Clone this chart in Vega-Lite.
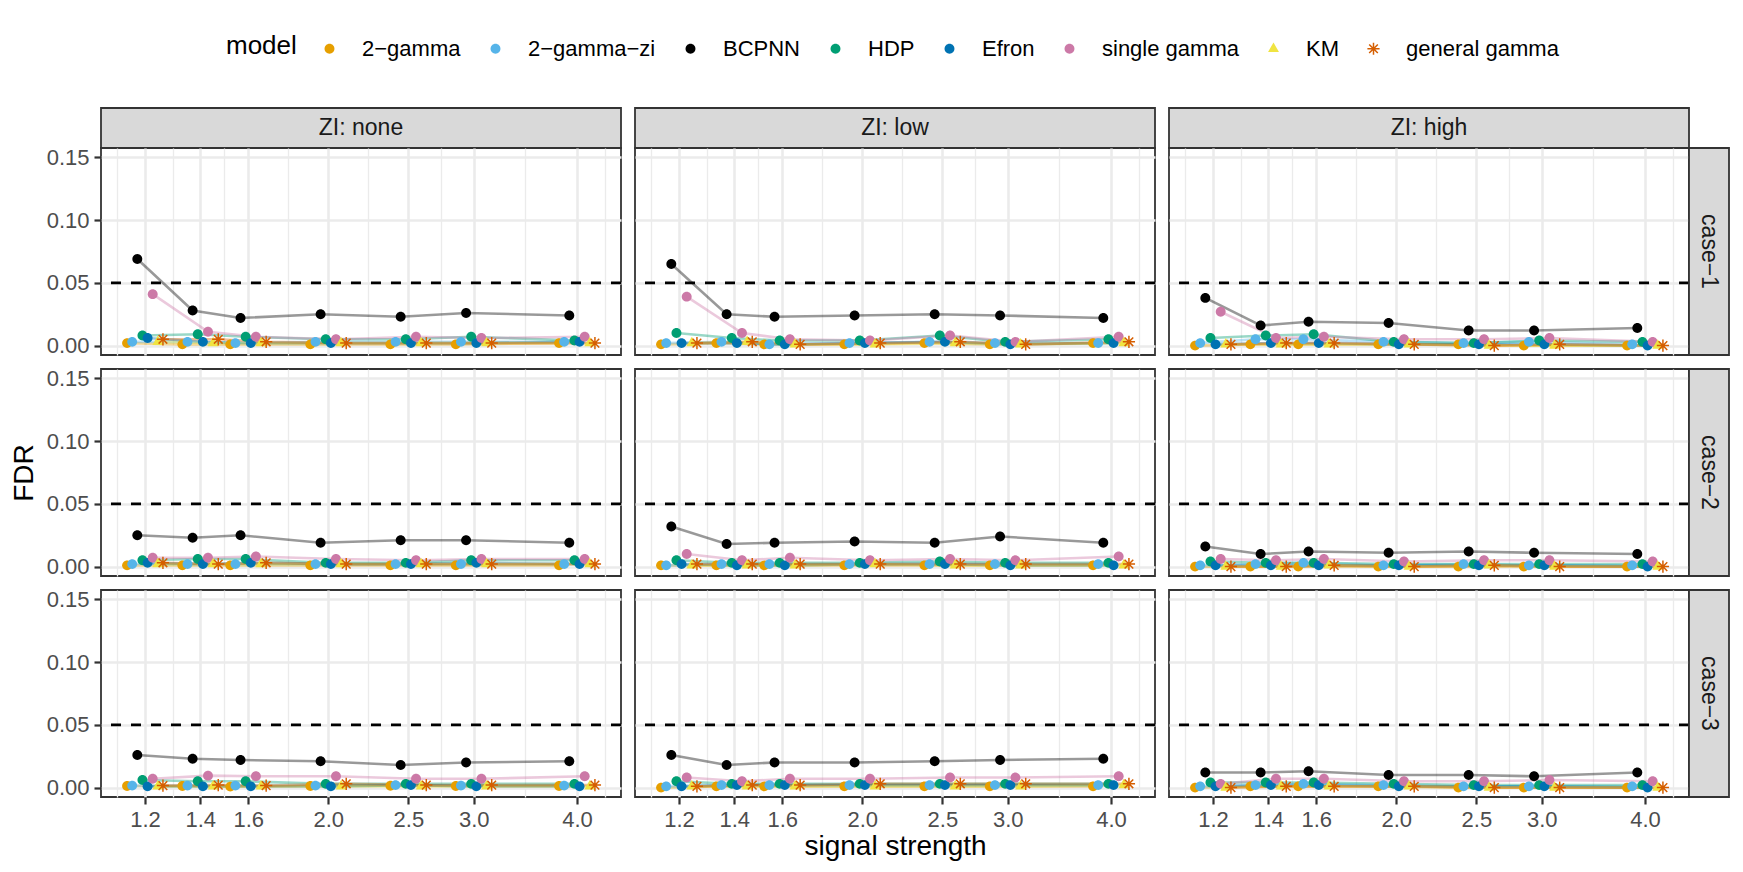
{
"$schema": "https://vega.github.io/schema/vega-lite/v6.json",
"autosize": {"type": "pad"},
"padding": {"left": 9, "top": 32, "right": 14, "bottom": 4},
"background": "white",
"datasets": {
"fdr": [
{"zi":"none","case":"case-1","model":"2−gamma","signal":1.2,"FDR":0.002},{"zi":"none","case":"case-1","model":"2−gamma","signal":1.4,"FDR":0.001},{"zi":"none","case":"case-1","model":"2−gamma","signal":1.6,"FDR":0.001},{"zi":"none","case":"case-1","model":"2−gamma","signal":2,"FDR":0.001},{"zi":"none","case":"case-1","model":"2−gamma","signal":2.5,"FDR":0.001},{"zi":"none","case":"case-1","model":"2−gamma","signal":3,"FDR":0.001},{"zi":"none","case":"case-1","model":"2−gamma","signal":4,"FDR":0.002},
{"zi":"none","case":"case-1","model":"2−gamma−zi","signal":1.2,"FDR":0.003},{"zi":"none","case":"case-1","model":"2−gamma−zi","signal":1.4,"FDR":0.003},{"zi":"none","case":"case-1","model":"2−gamma−zi","signal":1.6,"FDR":0.002},{"zi":"none","case":"case-1","model":"2−gamma−zi","signal":2,"FDR":0.003},{"zi":"none","case":"case-1","model":"2−gamma−zi","signal":2.5,"FDR":0.003},{"zi":"none","case":"case-1","model":"2−gamma−zi","signal":3,"FDR":0.003},{"zi":"none","case":"case-1","model":"2−gamma−zi","signal":4,"FDR":0.003},
{"zi":"none","case":"case-1","model":"BCPNN","signal":1.2,"FDR":0.069},{"zi":"none","case":"case-1","model":"BCPNN","signal":1.4,"FDR":0.028},{"zi":"none","case":"case-1","model":"BCPNN","signal":1.6,"FDR":0.022},{"zi":"none","case":"case-1","model":"BCPNN","signal":2,"FDR":0.025},{"zi":"none","case":"case-1","model":"BCPNN","signal":2.5,"FDR":0.023},{"zi":"none","case":"case-1","model":"BCPNN","signal":3,"FDR":0.026},{"zi":"none","case":"case-1","model":"BCPNN","signal":4,"FDR":0.024},
{"zi":"none","case":"case-1","model":"HDP","signal":1.2,"FDR":0.008},{"zi":"none","case":"case-1","model":"HDP","signal":1.4,"FDR":0.009},{"zi":"none","case":"case-1","model":"HDP","signal":1.6,"FDR":0.007},{"zi":"none","case":"case-1","model":"HDP","signal":2,"FDR":0.005},{"zi":"none","case":"case-1","model":"HDP","signal":2.5,"FDR":0.005},{"zi":"none","case":"case-1","model":"HDP","signal":3,"FDR":0.007},{"zi":"none","case":"case-1","model":"HDP","signal":4,"FDR":0.004},
{"zi":"none","case":"case-1","model":"Efron","signal":1.2,"FDR":0.006},{"zi":"none","case":"case-1","model":"Efron","signal":1.4,"FDR":0.003},{"zi":"none","case":"case-1","model":"Efron","signal":1.6,"FDR":0.002},{"zi":"none","case":"case-1","model":"Efron","signal":2,"FDR":0.002},{"zi":"none","case":"case-1","model":"Efron","signal":2.5,"FDR":0.002},{"zi":"none","case":"case-1","model":"Efron","signal":3,"FDR":0.002},{"zi":"none","case":"case-1","model":"Efron","signal":4,"FDR":0.003},
{"zi":"none","case":"case-1","model":"single gamma","signal":1.2,"FDR":0.041},{"zi":"none","case":"case-1","model":"single gamma","signal":1.4,"FDR":0.011},{"zi":"none","case":"case-1","model":"single gamma","signal":1.6,"FDR":0.007},{"zi":"none","case":"case-1","model":"single gamma","signal":2,"FDR":0.005},{"zi":"none","case":"case-1","model":"single gamma","signal":2.5,"FDR":0.007},{"zi":"none","case":"case-1","model":"single gamma","signal":3,"FDR":0.006},{"zi":"none","case":"case-1","model":"single gamma","signal":4,"FDR":0.007},
{"zi":"none","case":"case-1","model":"KM","signal":1.2,"FDR":0.003},{"zi":"none","case":"case-1","model":"KM","signal":1.4,"FDR":0.002},{"zi":"none","case":"case-1","model":"KM","signal":1.6,"FDR":0.002},{"zi":"none","case":"case-1","model":"KM","signal":2,"FDR":0.002},{"zi":"none","case":"case-1","model":"KM","signal":2.5,"FDR":0.002},{"zi":"none","case":"case-1","model":"KM","signal":3,"FDR":0.002},{"zi":"none","case":"case-1","model":"KM","signal":4,"FDR":0.002},
{"zi":"none","case":"case-1","model":"general gamma","signal":1.2,"FDR":0.005},{"zi":"none","case":"case-1","model":"general gamma","signal":1.4,"FDR":0.005},{"zi":"none","case":"case-1","model":"general gamma","signal":1.6,"FDR":0.003},{"zi":"none","case":"case-1","model":"general gamma","signal":2,"FDR":0.002},{"zi":"none","case":"case-1","model":"general gamma","signal":2.5,"FDR":0.002},{"zi":"none","case":"case-1","model":"general gamma","signal":3,"FDR":0.002},{"zi":"none","case":"case-1","model":"general gamma","signal":4,"FDR":0.002},
{"zi":"low","case":"case-1","model":"2−gamma","signal":1.2,"FDR":0.001},{"zi":"low","case":"case-1","model":"2−gamma","signal":1.4,"FDR":0.002},{"zi":"low","case":"case-1","model":"2−gamma","signal":1.6,"FDR":0.001},{"zi":"low","case":"case-1","model":"2−gamma","signal":2,"FDR":0.001},{"zi":"low","case":"case-1","model":"2−gamma","signal":2.5,"FDR":0.002},{"zi":"low","case":"case-1","model":"2−gamma","signal":3,"FDR":0.001},{"zi":"low","case":"case-1","model":"2−gamma","signal":4,"FDR":0.002},
{"zi":"low","case":"case-1","model":"2−gamma−zi","signal":1.2,"FDR":0.002},{"zi":"low","case":"case-1","model":"2−gamma−zi","signal":1.4,"FDR":0.003},{"zi":"low","case":"case-1","model":"2−gamma−zi","signal":1.6,"FDR":0.001},{"zi":"low","case":"case-1","model":"2−gamma−zi","signal":2,"FDR":0.002},{"zi":"low","case":"case-1","model":"2−gamma−zi","signal":2.5,"FDR":0.003},{"zi":"low","case":"case-1","model":"2−gamma−zi","signal":3,"FDR":0.002},{"zi":"low","case":"case-1","model":"2−gamma−zi","signal":4,"FDR":0.002},
{"zi":"low","case":"case-1","model":"BCPNN","signal":1.2,"FDR":0.065},{"zi":"low","case":"case-1","model":"BCPNN","signal":1.4,"FDR":0.025},{"zi":"low","case":"case-1","model":"BCPNN","signal":1.6,"FDR":0.023},{"zi":"low","case":"case-1","model":"BCPNN","signal":2,"FDR":0.024},{"zi":"low","case":"case-1","model":"BCPNN","signal":2.5,"FDR":0.025},{"zi":"low","case":"case-1","model":"BCPNN","signal":3,"FDR":0.024},{"zi":"low","case":"case-1","model":"BCPNN","signal":4,"FDR":0.022},
{"zi":"low","case":"case-1","model":"HDP","signal":1.2,"FDR":0.010},{"zi":"low","case":"case-1","model":"HDP","signal":1.4,"FDR":0.006},{"zi":"low","case":"case-1","model":"HDP","signal":1.6,"FDR":0.004},{"zi":"low","case":"case-1","model":"HDP","signal":2,"FDR":0.004},{"zi":"low","case":"case-1","model":"HDP","signal":2.5,"FDR":0.008},{"zi":"low","case":"case-1","model":"HDP","signal":3,"FDR":0.003},{"zi":"low","case":"case-1","model":"HDP","signal":4,"FDR":0.005},
{"zi":"low","case":"case-1","model":"Efron","signal":1.2,"FDR":0.002},{"zi":"low","case":"case-1","model":"Efron","signal":1.4,"FDR":0.002},{"zi":"low","case":"case-1","model":"Efron","signal":1.6,"FDR":0.001},{"zi":"low","case":"case-1","model":"Efron","signal":2,"FDR":0.002},{"zi":"low","case":"case-1","model":"Efron","signal":2.5,"FDR":0.003},{"zi":"low","case":"case-1","model":"Efron","signal":3,"FDR":0.001},{"zi":"low","case":"case-1","model":"Efron","signal":4,"FDR":0.002},
{"zi":"low","case":"case-1","model":"single gamma","signal":1.2,"FDR":0.039},{"zi":"low","case":"case-1","model":"single gamma","signal":1.4,"FDR":0.010},{"zi":"low","case":"case-1","model":"single gamma","signal":1.6,"FDR":0.005},{"zi":"low","case":"case-1","model":"single gamma","signal":2,"FDR":0.004},{"zi":"low","case":"case-1","model":"single gamma","signal":2.5,"FDR":0.008},{"zi":"low","case":"case-1","model":"single gamma","signal":3,"FDR":0.003},{"zi":"low","case":"case-1","model":"single gamma","signal":4,"FDR":0.007},
{"zi":"low","case":"case-1","model":"KM","signal":1.2,"FDR":0.002},{"zi":"low","case":"case-1","model":"KM","signal":1.4,"FDR":0.003},{"zi":"low","case":"case-1","model":"KM","signal":1.6,"FDR":0.001},{"zi":"low","case":"case-1","model":"KM","signal":2,"FDR":0.001},{"zi":"low","case":"case-1","model":"KM","signal":2.5,"FDR":0.002},{"zi":"low","case":"case-1","model":"KM","signal":3,"FDR":0.001},{"zi":"low","case":"case-1","model":"KM","signal":4,"FDR":0.002},
{"zi":"low","case":"case-1","model":"general gamma","signal":1.2,"FDR":0.002},{"zi":"low","case":"case-1","model":"general gamma","signal":1.4,"FDR":0.003},{"zi":"low","case":"case-1","model":"general gamma","signal":1.6,"FDR":0.001},{"zi":"low","case":"case-1","model":"general gamma","signal":2,"FDR":0.002},{"zi":"low","case":"case-1","model":"general gamma","signal":2.5,"FDR":0.003},{"zi":"low","case":"case-1","model":"general gamma","signal":3,"FDR":0.001},{"zi":"low","case":"case-1","model":"general gamma","signal":4,"FDR":0.003},
{"zi":"high","case":"case-1","model":"2−gamma","signal":1.2,"FDR":0.000},{"zi":"high","case":"case-1","model":"2−gamma","signal":1.4,"FDR":0.001},{"zi":"high","case":"case-1","model":"2−gamma","signal":1.6,"FDR":0.001},{"zi":"high","case":"case-1","model":"2−gamma","signal":2,"FDR":0.001},{"zi":"high","case":"case-1","model":"2−gamma","signal":2.5,"FDR":0.001},{"zi":"high","case":"case-1","model":"2−gamma","signal":3,"FDR":0.000},{"zi":"high","case":"case-1","model":"2−gamma","signal":4,"FDR":0.000},
{"zi":"high","case":"case-1","model":"2−gamma−zi","signal":1.2,"FDR":0.002},{"zi":"high","case":"case-1","model":"2−gamma−zi","signal":1.4,"FDR":0.005},{"zi":"high","case":"case-1","model":"2−gamma−zi","signal":1.6,"FDR":0.005},{"zi":"high","case":"case-1","model":"2−gamma−zi","signal":2,"FDR":0.003},{"zi":"high","case":"case-1","model":"2−gamma−zi","signal":2.5,"FDR":0.002},{"zi":"high","case":"case-1","model":"2−gamma−zi","signal":3,"FDR":0.003},{"zi":"high","case":"case-1","model":"2−gamma−zi","signal":4,"FDR":0.001},
{"zi":"high","case":"case-1","model":"BCPNN","signal":1.2,"FDR":0.038},{"zi":"high","case":"case-1","model":"BCPNN","signal":1.4,"FDR":0.016},{"zi":"high","case":"case-1","model":"BCPNN","signal":1.6,"FDR":0.019},{"zi":"high","case":"case-1","model":"BCPNN","signal":2,"FDR":0.018},{"zi":"high","case":"case-1","model":"BCPNN","signal":2.5,"FDR":0.012},{"zi":"high","case":"case-1","model":"BCPNN","signal":3,"FDR":0.012},{"zi":"high","case":"case-1","model":"BCPNN","signal":4,"FDR":0.014},
{"zi":"high","case":"case-1","model":"HDP","signal":1.2,"FDR":0.006},{"zi":"high","case":"case-1","model":"HDP","signal":1.4,"FDR":0.008},{"zi":"high","case":"case-1","model":"HDP","signal":1.6,"FDR":0.009},{"zi":"high","case":"case-1","model":"HDP","signal":2,"FDR":0.003},{"zi":"high","case":"case-1","model":"HDP","signal":2.5,"FDR":0.002},{"zi":"high","case":"case-1","model":"HDP","signal":3,"FDR":0.004},{"zi":"high","case":"case-1","model":"HDP","signal":4,"FDR":0.003},
{"zi":"high","case":"case-1","model":"Efron","signal":1.2,"FDR":0.001},{"zi":"high","case":"case-1","model":"Efron","signal":1.4,"FDR":0.002},{"zi":"high","case":"case-1","model":"Efron","signal":1.6,"FDR":0.002},{"zi":"high","case":"case-1","model":"Efron","signal":2,"FDR":0.001},{"zi":"high","case":"case-1","model":"Efron","signal":2.5,"FDR":0.001},{"zi":"high","case":"case-1","model":"Efron","signal":3,"FDR":0.001},{"zi":"high","case":"case-1","model":"Efron","signal":4,"FDR":0.000},
{"zi":"high","case":"case-1","model":"single gamma","signal":1.2,"FDR":0.027},{"zi":"high","case":"case-1","model":"single gamma","signal":1.4,"FDR":0.006},{"zi":"high","case":"case-1","model":"single gamma","signal":1.6,"FDR":0.007},{"zi":"high","case":"case-1","model":"single gamma","signal":2,"FDR":0.005},{"zi":"high","case":"case-1","model":"single gamma","signal":2.5,"FDR":0.005},{"zi":"high","case":"case-1","model":"single gamma","signal":3,"FDR":0.006},{"zi":"high","case":"case-1","model":"single gamma","signal":4,"FDR":0.003},
{"zi":"high","case":"case-1","model":"KM","signal":1.2,"FDR":0.001},{"zi":"high","case":"case-1","model":"KM","signal":1.4,"FDR":0.001},{"zi":"high","case":"case-1","model":"KM","signal":1.6,"FDR":0.001},{"zi":"high","case":"case-1","model":"KM","signal":2,"FDR":0.001},{"zi":"high","case":"case-1","model":"KM","signal":2.5,"FDR":0.000},{"zi":"high","case":"case-1","model":"KM","signal":3,"FDR":0.000},{"zi":"high","case":"case-1","model":"KM","signal":4,"FDR":0.000},
{"zi":"high","case":"case-1","model":"general gamma","signal":1.2,"FDR":0.001},{"zi":"high","case":"case-1","model":"general gamma","signal":1.4,"FDR":0.002},{"zi":"high","case":"case-1","model":"general gamma","signal":1.6,"FDR":0.002},{"zi":"high","case":"case-1","model":"general gamma","signal":2,"FDR":0.001},{"zi":"high","case":"case-1","model":"general gamma","signal":2.5,"FDR":0.000},{"zi":"high","case":"case-1","model":"general gamma","signal":3,"FDR":0.001},{"zi":"high","case":"case-1","model":"general gamma","signal":4,"FDR":0.000},
{"zi":"none","case":"case-2","model":"2−gamma","signal":1.2,"FDR":0.001},{"zi":"none","case":"case-2","model":"2−gamma","signal":1.4,"FDR":0.001},{"zi":"none","case":"case-2","model":"2−gamma","signal":1.6,"FDR":0.001},{"zi":"none","case":"case-2","model":"2−gamma","signal":2,"FDR":0.001},{"zi":"none","case":"case-2","model":"2−gamma","signal":2.5,"FDR":0.001},{"zi":"none","case":"case-2","model":"2−gamma","signal":3,"FDR":0.001},{"zi":"none","case":"case-2","model":"2−gamma","signal":4,"FDR":0.001},
{"zi":"none","case":"case-2","model":"2−gamma−zi","signal":1.2,"FDR":0.002},{"zi":"none","case":"case-2","model":"2−gamma−zi","signal":1.4,"FDR":0.002},{"zi":"none","case":"case-2","model":"2−gamma−zi","signal":1.6,"FDR":0.002},{"zi":"none","case":"case-2","model":"2−gamma−zi","signal":2,"FDR":0.002},{"zi":"none","case":"case-2","model":"2−gamma−zi","signal":2.5,"FDR":0.002},{"zi":"none","case":"case-2","model":"2−gamma−zi","signal":3,"FDR":0.002},{"zi":"none","case":"case-2","model":"2−gamma−zi","signal":4,"FDR":0.002},
{"zi":"none","case":"case-2","model":"BCPNN","signal":1.2,"FDR":0.025},{"zi":"none","case":"case-2","model":"BCPNN","signal":1.4,"FDR":0.023},{"zi":"none","case":"case-2","model":"BCPNN","signal":1.6,"FDR":0.025},{"zi":"none","case":"case-2","model":"BCPNN","signal":2,"FDR":0.019},{"zi":"none","case":"case-2","model":"BCPNN","signal":2.5,"FDR":0.021},{"zi":"none","case":"case-2","model":"BCPNN","signal":3,"FDR":0.021},{"zi":"none","case":"case-2","model":"BCPNN","signal":4,"FDR":0.019},
{"zi":"none","case":"case-2","model":"HDP","signal":1.2,"FDR":0.005},{"zi":"none","case":"case-2","model":"HDP","signal":1.4,"FDR":0.006},{"zi":"none","case":"case-2","model":"HDP","signal":1.6,"FDR":0.006},{"zi":"none","case":"case-2","model":"HDP","signal":2,"FDR":0.003},{"zi":"none","case":"case-2","model":"HDP","signal":2.5,"FDR":0.003},{"zi":"none","case":"case-2","model":"HDP","signal":3,"FDR":0.005},{"zi":"none","case":"case-2","model":"HDP","signal":4,"FDR":0.005},
{"zi":"none","case":"case-2","model":"Efron","signal":1.2,"FDR":0.003},{"zi":"none","case":"case-2","model":"Efron","signal":1.4,"FDR":0.002},{"zi":"none","case":"case-2","model":"Efron","signal":1.6,"FDR":0.003},{"zi":"none","case":"case-2","model":"Efron","signal":2,"FDR":0.002},{"zi":"none","case":"case-2","model":"Efron","signal":2.5,"FDR":0.002},{"zi":"none","case":"case-2","model":"Efron","signal":3,"FDR":0.003},{"zi":"none","case":"case-2","model":"Efron","signal":4,"FDR":0.002},
{"zi":"none","case":"case-2","model":"single gamma","signal":1.2,"FDR":0.007},{"zi":"none","case":"case-2","model":"single gamma","signal":1.4,"FDR":0.007},{"zi":"none","case":"case-2","model":"single gamma","signal":1.6,"FDR":0.008},{"zi":"none","case":"case-2","model":"single gamma","signal":2,"FDR":0.006},{"zi":"none","case":"case-2","model":"single gamma","signal":2.5,"FDR":0.005},{"zi":"none","case":"case-2","model":"single gamma","signal":3,"FDR":0.006},{"zi":"none","case":"case-2","model":"single gamma","signal":4,"FDR":0.006},
{"zi":"none","case":"case-2","model":"KM","signal":1.2,"FDR":0.002},{"zi":"none","case":"case-2","model":"KM","signal":1.4,"FDR":0.002},{"zi":"none","case":"case-2","model":"KM","signal":1.6,"FDR":0.002},{"zi":"none","case":"case-2","model":"KM","signal":2,"FDR":0.002},{"zi":"none","case":"case-2","model":"KM","signal":2.5,"FDR":0.002},{"zi":"none","case":"case-2","model":"KM","signal":3,"FDR":0.002},{"zi":"none","case":"case-2","model":"KM","signal":4,"FDR":0.002},
{"zi":"none","case":"case-2","model":"general gamma","signal":1.2,"FDR":0.003},{"zi":"none","case":"case-2","model":"general gamma","signal":1.4,"FDR":0.002},{"zi":"none","case":"case-2","model":"general gamma","signal":1.6,"FDR":0.003},{"zi":"none","case":"case-2","model":"general gamma","signal":2,"FDR":0.002},{"zi":"none","case":"case-2","model":"general gamma","signal":2.5,"FDR":0.002},{"zi":"none","case":"case-2","model":"general gamma","signal":3,"FDR":0.002},{"zi":"none","case":"case-2","model":"general gamma","signal":4,"FDR":0.002},
{"zi":"low","case":"case-2","model":"2−gamma","signal":1.2,"FDR":0.001},{"zi":"low","case":"case-2","model":"2−gamma","signal":1.4,"FDR":0.001},{"zi":"low","case":"case-2","model":"2−gamma","signal":1.6,"FDR":0.001},{"zi":"low","case":"case-2","model":"2−gamma","signal":2,"FDR":0.001},{"zi":"low","case":"case-2","model":"2−gamma","signal":2.5,"FDR":0.001},{"zi":"low","case":"case-2","model":"2−gamma","signal":3,"FDR":0.001},{"zi":"low","case":"case-2","model":"2−gamma","signal":4,"FDR":0.001},
{"zi":"low","case":"case-2","model":"2−gamma−zi","signal":1.2,"FDR":0.001},{"zi":"low","case":"case-2","model":"2−gamma−zi","signal":1.4,"FDR":0.002},{"zi":"low","case":"case-2","model":"2−gamma−zi","signal":1.6,"FDR":0.002},{"zi":"low","case":"case-2","model":"2−gamma−zi","signal":2,"FDR":0.002},{"zi":"low","case":"case-2","model":"2−gamma−zi","signal":2.5,"FDR":0.002},{"zi":"low","case":"case-2","model":"2−gamma−zi","signal":3,"FDR":0.002},{"zi":"low","case":"case-2","model":"2−gamma−zi","signal":4,"FDR":0.002},
{"zi":"low","case":"case-2","model":"BCPNN","signal":1.2,"FDR":0.032},{"zi":"low","case":"case-2","model":"BCPNN","signal":1.4,"FDR":0.018},{"zi":"low","case":"case-2","model":"BCPNN","signal":1.6,"FDR":0.019},{"zi":"low","case":"case-2","model":"BCPNN","signal":2,"FDR":0.020},{"zi":"low","case":"case-2","model":"BCPNN","signal":2.5,"FDR":0.019},{"zi":"low","case":"case-2","model":"BCPNN","signal":3,"FDR":0.024},{"zi":"low","case":"case-2","model":"BCPNN","signal":4,"FDR":0.019},
{"zi":"low","case":"case-2","model":"HDP","signal":1.2,"FDR":0.005},{"zi":"low","case":"case-2","model":"HDP","signal":1.4,"FDR":0.003},{"zi":"low","case":"case-2","model":"HDP","signal":1.6,"FDR":0.003},{"zi":"low","case":"case-2","model":"HDP","signal":2,"FDR":0.003},{"zi":"low","case":"case-2","model":"HDP","signal":2.5,"FDR":0.004},{"zi":"low","case":"case-2","model":"HDP","signal":3,"FDR":0.003},{"zi":"low","case":"case-2","model":"HDP","signal":4,"FDR":0.003},
{"zi":"low","case":"case-2","model":"Efron","signal":1.2,"FDR":0.002},{"zi":"low","case":"case-2","model":"Efron","signal":1.4,"FDR":0.001},{"zi":"low","case":"case-2","model":"Efron","signal":1.6,"FDR":0.001},{"zi":"low","case":"case-2","model":"Efron","signal":2,"FDR":0.002},{"zi":"low","case":"case-2","model":"Efron","signal":2.5,"FDR":0.002},{"zi":"low","case":"case-2","model":"Efron","signal":3,"FDR":0.001},{"zi":"low","case":"case-2","model":"Efron","signal":4,"FDR":0.001},
{"zi":"low","case":"case-2","model":"single gamma","signal":1.2,"FDR":0.010},{"zi":"low","case":"case-2","model":"single gamma","signal":1.4,"FDR":0.005},{"zi":"low","case":"case-2","model":"single gamma","signal":1.6,"FDR":0.007},{"zi":"low","case":"case-2","model":"single gamma","signal":2,"FDR":0.005},{"zi":"low","case":"case-2","model":"single gamma","signal":2.5,"FDR":0.006},{"zi":"low","case":"case-2","model":"single gamma","signal":3,"FDR":0.005},{"zi":"low","case":"case-2","model":"single gamma","signal":4,"FDR":0.008},
{"zi":"low","case":"case-2","model":"KM","signal":1.2,"FDR":0.001},{"zi":"low","case":"case-2","model":"KM","signal":1.4,"FDR":0.001},{"zi":"low","case":"case-2","model":"KM","signal":1.6,"FDR":0.001},{"zi":"low","case":"case-2","model":"KM","signal":2,"FDR":0.002},{"zi":"low","case":"case-2","model":"KM","signal":2.5,"FDR":0.001},{"zi":"low","case":"case-2","model":"KM","signal":3,"FDR":0.001},{"zi":"low","case":"case-2","model":"KM","signal":4,"FDR":0.001},
{"zi":"low","case":"case-2","model":"general gamma","signal":1.2,"FDR":0.002},{"zi":"low","case":"case-2","model":"general gamma","signal":1.4,"FDR":0.002},{"zi":"low","case":"case-2","model":"general gamma","signal":1.6,"FDR":0.002},{"zi":"low","case":"case-2","model":"general gamma","signal":2,"FDR":0.002},{"zi":"low","case":"case-2","model":"general gamma","signal":2.5,"FDR":0.002},{"zi":"low","case":"case-2","model":"general gamma","signal":3,"FDR":0.002},{"zi":"low","case":"case-2","model":"general gamma","signal":4,"FDR":0.002},
{"zi":"high","case":"case-2","model":"2−gamma","signal":1.2,"FDR":0.000},{"zi":"high","case":"case-2","model":"2−gamma","signal":1.4,"FDR":0.000},{"zi":"high","case":"case-2","model":"2−gamma","signal":1.6,"FDR":0.000},{"zi":"high","case":"case-2","model":"2−gamma","signal":2,"FDR":0.000},{"zi":"high","case":"case-2","model":"2−gamma","signal":2.5,"FDR":0.000},{"zi":"high","case":"case-2","model":"2−gamma","signal":3,"FDR":0.000},{"zi":"high","case":"case-2","model":"2−gamma","signal":4,"FDR":0.000},
{"zi":"high","case":"case-2","model":"2−gamma−zi","signal":1.2,"FDR":0.001},{"zi":"high","case":"case-2","model":"2−gamma−zi","signal":1.4,"FDR":0.002},{"zi":"high","case":"case-2","model":"2−gamma−zi","signal":1.6,"FDR":0.003},{"zi":"high","case":"case-2","model":"2−gamma−zi","signal":2,"FDR":0.001},{"zi":"high","case":"case-2","model":"2−gamma−zi","signal":2.5,"FDR":0.002},{"zi":"high","case":"case-2","model":"2−gamma−zi","signal":3,"FDR":0.001},{"zi":"high","case":"case-2","model":"2−gamma−zi","signal":4,"FDR":0.001},
{"zi":"high","case":"case-2","model":"BCPNN","signal":1.2,"FDR":0.016},{"zi":"high","case":"case-2","model":"BCPNN","signal":1.4,"FDR":0.010},{"zi":"high","case":"case-2","model":"BCPNN","signal":1.6,"FDR":0.012},{"zi":"high","case":"case-2","model":"BCPNN","signal":2,"FDR":0.011},{"zi":"high","case":"case-2","model":"BCPNN","signal":2.5,"FDR":0.012},{"zi":"high","case":"case-2","model":"BCPNN","signal":3,"FDR":0.011},{"zi":"high","case":"case-2","model":"BCPNN","signal":4,"FDR":0.010},
{"zi":"high","case":"case-2","model":"HDP","signal":1.2,"FDR":0.004},{"zi":"high","case":"case-2","model":"HDP","signal":1.4,"FDR":0.003},{"zi":"high","case":"case-2","model":"HDP","signal":1.6,"FDR":0.003},{"zi":"high","case":"case-2","model":"HDP","signal":2,"FDR":0.002},{"zi":"high","case":"case-2","model":"HDP","signal":2.5,"FDR":0.002},{"zi":"high","case":"case-2","model":"HDP","signal":3,"FDR":0.002},{"zi":"high","case":"case-2","model":"HDP","signal":4,"FDR":0.002},
{"zi":"high","case":"case-2","model":"Efron","signal":1.2,"FDR":0.001},{"zi":"high","case":"case-2","model":"Efron","signal":1.4,"FDR":0.001},{"zi":"high","case":"case-2","model":"Efron","signal":1.6,"FDR":0.001},{"zi":"high","case":"case-2","model":"Efron","signal":2,"FDR":0.001},{"zi":"high","case":"case-2","model":"Efron","signal":2.5,"FDR":0.001},{"zi":"high","case":"case-2","model":"Efron","signal":3,"FDR":0.001},{"zi":"high","case":"case-2","model":"Efron","signal":4,"FDR":0.000},
{"zi":"high","case":"case-2","model":"single gamma","signal":1.2,"FDR":0.006},{"zi":"high","case":"case-2","model":"single gamma","signal":1.4,"FDR":0.005},{"zi":"high","case":"case-2","model":"single gamma","signal":1.6,"FDR":0.006},{"zi":"high","case":"case-2","model":"single gamma","signal":2,"FDR":0.004},{"zi":"high","case":"case-2","model":"single gamma","signal":2.5,"FDR":0.005},{"zi":"high","case":"case-2","model":"single gamma","signal":3,"FDR":0.005},{"zi":"high","case":"case-2","model":"single gamma","signal":4,"FDR":0.004},
{"zi":"high","case":"case-2","model":"KM","signal":1.2,"FDR":0.000},{"zi":"high","case":"case-2","model":"KM","signal":1.4,"FDR":0.000},{"zi":"high","case":"case-2","model":"KM","signal":1.6,"FDR":0.001},{"zi":"high","case":"case-2","model":"KM","signal":2,"FDR":0.000},{"zi":"high","case":"case-2","model":"KM","signal":2.5,"FDR":0.001},{"zi":"high","case":"case-2","model":"KM","signal":3,"FDR":0.000},{"zi":"high","case":"case-2","model":"KM","signal":4,"FDR":0.000},
{"zi":"high","case":"case-2","model":"general gamma","signal":1.2,"FDR":0.000},{"zi":"high","case":"case-2","model":"general gamma","signal":1.4,"FDR":0.000},{"zi":"high","case":"case-2","model":"general gamma","signal":1.6,"FDR":0.001},{"zi":"high","case":"case-2","model":"general gamma","signal":2,"FDR":0.000},{"zi":"high","case":"case-2","model":"general gamma","signal":2.5,"FDR":0.001},{"zi":"high","case":"case-2","model":"general gamma","signal":3,"FDR":0.000},{"zi":"high","case":"case-2","model":"general gamma","signal":4,"FDR":0.000},
{"zi":"none","case":"case-3","model":"2−gamma","signal":1.2,"FDR":0.0013},{"zi":"none","case":"case-3","model":"2−gamma","signal":1.4,"FDR":0.0013},{"zi":"none","case":"case-3","model":"2−gamma","signal":1.6,"FDR":0.0008},{"zi":"none","case":"case-3","model":"2−gamma","signal":2,"FDR":0.0013},{"zi":"none","case":"case-3","model":"2−gamma","signal":2.5,"FDR":0.0015},{"zi":"none","case":"case-3","model":"2−gamma","signal":3,"FDR":0.0013},{"zi":"none","case":"case-3","model":"2−gamma","signal":4,"FDR":0.0013},
{"zi":"none","case":"case-3","model":"2−gamma−zi","signal":1.2,"FDR":0.0016},{"zi":"none","case":"case-3","model":"2−gamma−zi","signal":1.4,"FDR":0.0016},{"zi":"none","case":"case-3","model":"2−gamma−zi","signal":1.6,"FDR":0.0016},{"zi":"none","case":"case-3","model":"2−gamma−zi","signal":2,"FDR":0.0016},{"zi":"none","case":"case-3","model":"2−gamma−zi","signal":2.5,"FDR":0.002},{"zi":"none","case":"case-3","model":"2−gamma−zi","signal":3,"FDR":0.0016},{"zi":"none","case":"case-3","model":"2−gamma−zi","signal":4,"FDR":0.0016},
{"zi":"none","case":"case-3","model":"BCPNN","signal":1.2,"FDR":0.026},{"zi":"none","case":"case-3","model":"BCPNN","signal":1.4,"FDR":0.023},{"zi":"none","case":"case-3","model":"BCPNN","signal":1.6,"FDR":0.022},{"zi":"none","case":"case-3","model":"BCPNN","signal":2,"FDR":0.021},{"zi":"none","case":"case-3","model":"BCPNN","signal":2.5,"FDR":0.018},{"zi":"none","case":"case-3","model":"BCPNN","signal":3,"FDR":0.020},{"zi":"none","case":"case-3","model":"BCPNN","signal":4,"FDR":0.021},
{"zi":"none","case":"case-3","model":"HDP","signal":1.2,"FDR":0.006},{"zi":"none","case":"case-3","model":"HDP","signal":1.4,"FDR":0.005},{"zi":"none","case":"case-3","model":"HDP","signal":1.6,"FDR":0.005},{"zi":"none","case":"case-3","model":"HDP","signal":2,"FDR":0.003},{"zi":"none","case":"case-3","model":"HDP","signal":2.5,"FDR":0.003},{"zi":"none","case":"case-3","model":"HDP","signal":3,"FDR":0.003},{"zi":"none","case":"case-3","model":"HDP","signal":4,"FDR":0.003},
{"zi":"none","case":"case-3","model":"Efron","signal":1.2,"FDR":0.001},{"zi":"none","case":"case-3","model":"Efron","signal":1.4,"FDR":0.001},{"zi":"none","case":"case-3","model":"Efron","signal":1.6,"FDR":0.001},{"zi":"none","case":"case-3","model":"Efron","signal":2,"FDR":0.001},{"zi":"none","case":"case-3","model":"Efron","signal":2.5,"FDR":0.002},{"zi":"none","case":"case-3","model":"Efron","signal":3,"FDR":0.001},{"zi":"none","case":"case-3","model":"Efron","signal":4,"FDR":0.001},
{"zi":"none","case":"case-3","model":"single gamma","signal":1.2,"FDR":0.007},{"zi":"none","case":"case-3","model":"single gamma","signal":1.4,"FDR":0.0095},{"zi":"none","case":"case-3","model":"single gamma","signal":1.6,"FDR":0.009},{"zi":"none","case":"case-3","model":"single gamma","signal":2,"FDR":0.009},{"zi":"none","case":"case-3","model":"single gamma","signal":2.5,"FDR":0.007},{"zi":"none","case":"case-3","model":"single gamma","signal":3,"FDR":0.007},{"zi":"none","case":"case-3","model":"single gamma","signal":4,"FDR":0.009},
{"zi":"none","case":"case-3","model":"KM","signal":1.2,"FDR":0.001},{"zi":"none","case":"case-3","model":"KM","signal":1.4,"FDR":0.001},{"zi":"none","case":"case-3","model":"KM","signal":1.6,"FDR":0.001},{"zi":"none","case":"case-3","model":"KM","signal":2,"FDR":0.001},{"zi":"none","case":"case-3","model":"KM","signal":2.5,"FDR":0.001},{"zi":"none","case":"case-3","model":"KM","signal":3,"FDR":0.001},{"zi":"none","case":"case-3","model":"KM","signal":4,"FDR":0.001},
{"zi":"none","case":"case-3","model":"general gamma","signal":1.2,"FDR":0.0016},{"zi":"none","case":"case-3","model":"general gamma","signal":1.4,"FDR":0.002},{"zi":"none","case":"case-3","model":"general gamma","signal":1.6,"FDR":0.0016},{"zi":"none","case":"case-3","model":"general gamma","signal":2,"FDR":0.003},{"zi":"none","case":"case-3","model":"general gamma","signal":2.5,"FDR":0.002},{"zi":"none","case":"case-3","model":"general gamma","signal":3,"FDR":0.002},{"zi":"none","case":"case-3","model":"general gamma","signal":4,"FDR":0.002},
{"zi":"low","case":"case-3","model":"2−gamma","signal":1.2,"FDR":0.000},{"zi":"low","case":"case-3","model":"2−gamma","signal":1.4,"FDR":0.001},{"zi":"low","case":"case-3","model":"2−gamma","signal":1.6,"FDR":0.001},{"zi":"low","case":"case-3","model":"2−gamma","signal":2,"FDR":0.001},{"zi":"low","case":"case-3","model":"2−gamma","signal":2.5,"FDR":0.001},{"zi":"low","case":"case-3","model":"2−gamma","signal":3,"FDR":0.001},{"zi":"low","case":"case-3","model":"2−gamma","signal":4,"FDR":0.001},
{"zi":"low","case":"case-3","model":"2−gamma−zi","signal":1.2,"FDR":0.001},{"zi":"low","case":"case-3","model":"2−gamma−zi","signal":1.4,"FDR":0.002},{"zi":"low","case":"case-3","model":"2−gamma−zi","signal":1.6,"FDR":0.002},{"zi":"low","case":"case-3","model":"2−gamma−zi","signal":2,"FDR":0.002},{"zi":"low","case":"case-3","model":"2−gamma−zi","signal":2.5,"FDR":0.002},{"zi":"low","case":"case-3","model":"2−gamma−zi","signal":3,"FDR":0.002},{"zi":"low","case":"case-3","model":"2−gamma−zi","signal":4,"FDR":0.002},
{"zi":"low","case":"case-3","model":"BCPNN","signal":1.2,"FDR":0.026},{"zi":"low","case":"case-3","model":"BCPNN","signal":1.4,"FDR":0.018},{"zi":"low","case":"case-3","model":"BCPNN","signal":1.6,"FDR":0.020},{"zi":"low","case":"case-3","model":"BCPNN","signal":2,"FDR":0.020},{"zi":"low","case":"case-3","model":"BCPNN","signal":2.5,"FDR":0.021},{"zi":"low","case":"case-3","model":"BCPNN","signal":3,"FDR":0.022},{"zi":"low","case":"case-3","model":"BCPNN","signal":4,"FDR":0.023},
{"zi":"low","case":"case-3","model":"HDP","signal":1.2,"FDR":0.005},{"zi":"low","case":"case-3","model":"HDP","signal":1.4,"FDR":0.003},{"zi":"low","case":"case-3","model":"HDP","signal":1.6,"FDR":0.003},{"zi":"low","case":"case-3","model":"HDP","signal":2,"FDR":0.003},{"zi":"low","case":"case-3","model":"HDP","signal":2.5,"FDR":0.003},{"zi":"low","case":"case-3","model":"HDP","signal":3,"FDR":0.003},{"zi":"low","case":"case-3","model":"HDP","signal":4,"FDR":0.003},
{"zi":"low","case":"case-3","model":"Efron","signal":1.2,"FDR":0.001},{"zi":"low","case":"case-3","model":"Efron","signal":1.4,"FDR":0.002},{"zi":"low","case":"case-3","model":"Efron","signal":1.6,"FDR":0.002},{"zi":"low","case":"case-3","model":"Efron","signal":2,"FDR":0.002},{"zi":"low","case":"case-3","model":"Efron","signal":2.5,"FDR":0.002},{"zi":"low","case":"case-3","model":"Efron","signal":3,"FDR":0.002},{"zi":"low","case":"case-3","model":"Efron","signal":4,"FDR":0.002},
{"zi":"low","case":"case-3","model":"single gamma","signal":1.2,"FDR":0.008},{"zi":"low","case":"case-3","model":"single gamma","signal":1.4,"FDR":0.005},{"zi":"low","case":"case-3","model":"single gamma","signal":1.6,"FDR":0.007},{"zi":"low","case":"case-3","model":"single gamma","signal":2,"FDR":0.007},{"zi":"low","case":"case-3","model":"single gamma","signal":2.5,"FDR":0.008},{"zi":"low","case":"case-3","model":"single gamma","signal":3,"FDR":0.008},{"zi":"low","case":"case-3","model":"single gamma","signal":4,"FDR":0.009},
{"zi":"low","case":"case-3","model":"KM","signal":1.2,"FDR":0.001},{"zi":"low","case":"case-3","model":"KM","signal":1.4,"FDR":0.001},{"zi":"low","case":"case-3","model":"KM","signal":1.6,"FDR":0.001},{"zi":"low","case":"case-3","model":"KM","signal":2,"FDR":0.001},{"zi":"low","case":"case-3","model":"KM","signal":2.5,"FDR":0.001},{"zi":"low","case":"case-3","model":"KM","signal":3,"FDR":0.001},{"zi":"low","case":"case-3","model":"KM","signal":4,"FDR":0.002},
{"zi":"low","case":"case-3","model":"general gamma","signal":1.2,"FDR":0.001},{"zi":"low","case":"case-3","model":"general gamma","signal":1.4,"FDR":0.002},{"zi":"low","case":"case-3","model":"general gamma","signal":1.6,"FDR":0.002},{"zi":"low","case":"case-3","model":"general gamma","signal":2,"FDR":0.003},{"zi":"low","case":"case-3","model":"general gamma","signal":2.5,"FDR":0.003},{"zi":"low","case":"case-3","model":"general gamma","signal":3,"FDR":0.003},{"zi":"low","case":"case-3","model":"general gamma","signal":4,"FDR":0.003},
{"zi":"high","case":"case-3","model":"2−gamma","signal":1.2,"FDR":0.000},{"zi":"high","case":"case-3","model":"2−gamma","signal":1.4,"FDR":0.001},{"zi":"high","case":"case-3","model":"2−gamma","signal":1.6,"FDR":0.001},{"zi":"high","case":"case-3","model":"2−gamma","signal":2,"FDR":0.001},{"zi":"high","case":"case-3","model":"2−gamma","signal":2.5,"FDR":0.000},{"zi":"high","case":"case-3","model":"2−gamma","signal":3,"FDR":0.000},{"zi":"high","case":"case-3","model":"2−gamma","signal":4,"FDR":0.000},
{"zi":"high","case":"case-3","model":"2−gamma−zi","signal":1.2,"FDR":0.001},{"zi":"high","case":"case-3","model":"2−gamma−zi","signal":1.4,"FDR":0.002},{"zi":"high","case":"case-3","model":"2−gamma−zi","signal":1.6,"FDR":0.003},{"zi":"high","case":"case-3","model":"2−gamma−zi","signal":2,"FDR":0.002},{"zi":"high","case":"case-3","model":"2−gamma−zi","signal":2.5,"FDR":0.001},{"zi":"high","case":"case-3","model":"2−gamma−zi","signal":3,"FDR":0.001},{"zi":"high","case":"case-3","model":"2−gamma−zi","signal":4,"FDR":0.001},
{"zi":"high","case":"case-3","model":"BCPNN","signal":1.2,"FDR":0.012},{"zi":"high","case":"case-3","model":"BCPNN","signal":1.4,"FDR":0.012},{"zi":"high","case":"case-3","model":"BCPNN","signal":1.6,"FDR":0.013},{"zi":"high","case":"case-3","model":"BCPNN","signal":2,"FDR":0.010},{"zi":"high","case":"case-3","model":"BCPNN","signal":2.5,"FDR":0.010},{"zi":"high","case":"case-3","model":"BCPNN","signal":3,"FDR":0.009},{"zi":"high","case":"case-3","model":"BCPNN","signal":4,"FDR":0.012},
{"zi":"high","case":"case-3","model":"HDP","signal":1.2,"FDR":0.004},{"zi":"high","case":"case-3","model":"HDP","signal":1.4,"FDR":0.004},{"zi":"high","case":"case-3","model":"HDP","signal":1.6,"FDR":0.004},{"zi":"high","case":"case-3","model":"HDP","signal":2,"FDR":0.003},{"zi":"high","case":"case-3","model":"HDP","signal":2.5,"FDR":0.002},{"zi":"high","case":"case-3","model":"HDP","signal":3,"FDR":0.002},{"zi":"high","case":"case-3","model":"HDP","signal":4,"FDR":0.002},
{"zi":"high","case":"case-3","model":"Efron","signal":1.2,"FDR":0.001},{"zi":"high","case":"case-3","model":"Efron","signal":1.4,"FDR":0.002},{"zi":"high","case":"case-3","model":"Efron","signal":1.6,"FDR":0.002},{"zi":"high","case":"case-3","model":"Efron","signal":2,"FDR":0.001},{"zi":"high","case":"case-3","model":"Efron","signal":2.5,"FDR":0.001},{"zi":"high","case":"case-3","model":"Efron","signal":3,"FDR":0.001},{"zi":"high","case":"case-3","model":"Efron","signal":4,"FDR":0.000},
{"zi":"high","case":"case-3","model":"single gamma","signal":1.2,"FDR":0.003},{"zi":"high","case":"case-3","model":"single gamma","signal":1.4,"FDR":0.007},{"zi":"high","case":"case-3","model":"single gamma","signal":1.6,"FDR":0.007},{"zi":"high","case":"case-3","model":"single gamma","signal":2,"FDR":0.005},{"zi":"high","case":"case-3","model":"single gamma","signal":2.5,"FDR":0.005},{"zi":"high","case":"case-3","model":"single gamma","signal":3,"FDR":0.006},{"zi":"high","case":"case-3","model":"single gamma","signal":4,"FDR":0.005},
{"zi":"high","case":"case-3","model":"KM","signal":1.2,"FDR":0.000},{"zi":"high","case":"case-3","model":"KM","signal":1.4,"FDR":0.001},{"zi":"high","case":"case-3","model":"KM","signal":1.6,"FDR":0.001},{"zi":"high","case":"case-3","model":"KM","signal":2,"FDR":0.001},{"zi":"high","case":"case-3","model":"KM","signal":2.5,"FDR":0.000},{"zi":"high","case":"case-3","model":"KM","signal":3,"FDR":0.000},{"zi":"high","case":"case-3","model":"KM","signal":4,"FDR":0.000},
{"zi":"high","case":"case-3","model":"general gamma","signal":1.2,"FDR":0.000},{"zi":"high","case":"case-3","model":"general gamma","signal":1.4,"FDR":0.001},{"zi":"high","case":"case-3","model":"general gamma","signal":1.6,"FDR":0.001},{"zi":"high","case":"case-3","model":"general gamma","signal":2,"FDR":0.001},{"zi":"high","case":"case-3","model":"general gamma","signal":2.5,"FDR":0.000},{"zi":"high","case":"case-3","model":"general gamma","signal":3,"FDR":0.000},{"zi":"high","case":"case-3","model":"general gamma","signal":4,"FDR":0.000}
],
"threshold": [{"threshold": 0.05}],
"none": []
},
"columns": 6,
"align": "each",
"bounds": "flush",
"spacing": 0,
"concat": [
{"width": 520, "height": 40, "view": {"fill": "#D9D9D9", "stroke": "#333333", "strokeWidth": 1.8}, "data": {"values": [{"label": "ZI: none"}]}, "mark": {"type": "text", "fontSize": 23, "color": "#1A1A1A", "align": "center", "baseline": "middle"}, "encoding": {"text": {"field": "label"}}},
{"width": 14, "height": 1, "data": {"name": "none"}, "mark": "point", "view": {"stroke": null}},
{"width": 520, "height": 40, "view": {"fill": "#D9D9D9", "stroke": "#333333", "strokeWidth": 1.8}, "data": {"values": [{"label": "ZI: low"}]}, "mark": {"type": "text", "fontSize": 23, "color": "#1A1A1A", "align": "center", "baseline": "middle"}, "encoding": {"text": {"field": "label"}}},
{"width": 14, "height": 1, "data": {"name": "none"}, "mark": "point", "view": {"stroke": null}},
{"width": 520, "height": 40, "view": {"fill": "#D9D9D9", "stroke": "#333333", "strokeWidth": 1.8}, "data": {"values": [{"label": "ZI: high"}]}, "mark": {"type": "text", "fontSize": 23, "color": "#1A1A1A", "align": "center", "baseline": "middle"}, "encoding": {"text": {"field": "label"}}},
{"width": 1, "height": 1, "data": {"name": "none"}, "mark": "point", "view": {"stroke": null}},

{"width": 520, "height": 207, "layer": [
  {"data": {"name": "threshold"}, "mark": "rule", "encoding": {"y": {"field": "threshold", "type": "quantitative", "scale": {"domain": [-0.0075, 0.1575], "nice": false, "zero": false}, "axis": {"title": null, "values": [0,0.025,0.05,0.075,0.1,0.125,0.15], "labelExpr": "indexof([0,0.05,0.1,0.15], datum.value) >= 0 ? format(datum.value, '.2f') : ''", "tickWidth": {"condition": {"test": "indexof([0,0.05,0.1,0.15], datum.value) >= 0", "value": 2.2}, "value": 0}, "gridWidth": {"condition": {"test": "indexof([0,0.05,0.1,0.15], datum.value) >= 0", "value": 2.6}, "value": 1.3}}}}},
  {"data": {"name": "fdr"}, "transform": [{"filter": "datum.zi === 'none' && datum.case === 'case-1'"}], "mark": "line", "encoding": {
    "x": {"field": "signal", "type": "quantitative", "scale": {"type": "log", "domain": [1.0615, 4.522], "nice": false, "zero": false}, "axis": {"title": null, "values": [1.111,1.2,1.296,1.4,1.497,1.6,1.789,2,2.236,2.5,2.739,3,3.464,4,4.32], "labels": false, "ticks": false, "gridWidth": {"condition": {"test": "indexof([1.2,1.4,1.6,2,2.5,3,4], datum.value) >= 0", "value": 2.6}, "value": 1.3}}},
    "xOffset": {"value": {"expr": "indexof(['2−gamma','2−gamma−zi','BCPNN','HDP','Efron','single gamma','KM','general gamma'], datum.model) * 5.126 - 17.94"}},
    "y": {"field": "FDR", "type": "quantitative", "scale": {"domain": [-0.0075, 0.1575], "nice": false, "zero": false}},
    "color": {"field": "model", "type": "nominal", "scale": {"domain": ["general gamma","KM","single gamma","Efron","HDP","BCPNN","2−gamma−zi","2−gamma"], "range": ["#D55E00","#F0E442","#CC79A7","#0072B2","#009E73","#000000","#56B4E9","#E69F00"]}, "legend": null}
  }},
  {"data": {"name": "fdr"}, "transform": [{"filter": "datum.zi === 'none' && datum.case === 'case-1'"}], "mark": "point", "encoding": {
    "x": {"field": "signal", "type": "quantitative", "scale": {"type": "log", "domain": [1.0615, 4.522], "nice": false, "zero": false}},
    "xOffset": {"value": {"expr": "indexof(['2−gamma','2−gamma−zi','BCPNN','HDP','Efron','single gamma','KM','general gamma'], datum.model) * 5.126 - 17.94"}},
    "y": {"field": "FDR", "type": "quantitative", "scale": {"domain": [-0.0075, 0.1575], "nice": false, "zero": false}},
    "fill": {"field": "model", "type": "nominal", "scale": {"domain": ["2−gamma","2−gamma−zi","BCPNN","HDP","Efron","single gamma","KM","general gamma"], "range": ["#E69F00","#56B4E9","#000000","#009E73","#0072B2","#CC79A7","#F0E442","#D55E00"]}, "legend": {"orient": "none", "legendX": 125, "legendY": -76, "direction": "horizontal", "title": "model", "titleOrient": "left", "titleAnchor": "middle", "titleColor": "#000000", "titleFontSize": 26, "titleFontWeight": "normal", "titlePadding": 16, "labelColor": "#000000", "labelFontSize": 22, "labelOffset": 16, "columnPadding": 18, "symbolSize": 1089, "symbolOpacity": 1, "padding": 0}},
    "shape": {"field": "model", "type": "nominal", "scale": {"domain": ["2−gamma","2−gamma−zi","BCPNN","HDP","Efron","single gamma","KM","general gamma"], "range": ["M0.3,0A0.3,0.3,0,1,1,-0.3,0A0.3,0.3,0,1,1,0.3,0Z","M0.3,0A0.3,0.3,0,1,1,-0.3,0A0.3,0.3,0,1,1,0.3,0Z","M0.3,0A0.3,0.3,0,1,1,-0.3,0A0.3,0.3,0,1,1,0.3,0Z","M0.3,0A0.3,0.3,0,1,1,-0.3,0A0.3,0.3,0,1,1,0.3,0Z","M0.3,0A0.3,0.3,0,1,1,-0.3,0A0.3,0.3,0,1,1,0.3,0Z","M0.3,0A0.3,0.3,0,1,1,-0.3,0A0.3,0.3,0,1,1,0.3,0Z","M0,-0.38L0.33,0.19L-0.33,0.19Z","M-0.045,-0.37H0.045V0.37H-0.045Z M-0.37,-0.045H0.37V0.045H-0.37Z M-0.23,-0.294L0.294,0.23L0.23,0.294L-0.294,-0.23Z M-0.294,0.23L0.23,-0.294L0.294,-0.23L-0.23,0.294Z"]}, "legend": {"orient": "none", "legendX": 125, "legendY": -76, "direction": "horizontal", "title": "model", "titleOrient": "left", "titleAnchor": "middle", "titleColor": "#000000", "titleFontSize": 26, "titleFontWeight": "normal", "titlePadding": 16, "labelColor": "#000000", "labelFontSize": 22, "labelOffset": 16, "columnPadding": 18, "symbolSize": 1089, "symbolOpacity": 1, "padding": 0}}
  }}
]},
{"width": 14, "height": 1, "data": {"name": "none"}, "mark": "point", "view": {"stroke": null}},
{"width": 520, "height": 207, "layer": [
  {"data": {"name": "threshold"}, "mark": "rule", "encoding": {"y": {"field": "threshold", "type": "quantitative", "scale": {"domain": [-0.0075, 0.1575], "nice": false, "zero": false}, "axis": {"title": null, "values": [0,0.025,0.05,0.075,0.1,0.125,0.15], "labels": false, "ticks": false, "gridWidth": {"condition": {"test": "indexof([0,0.05,0.1,0.15], datum.value) >= 0", "value": 2.6}, "value": 1.3}}}}},
  {"data": {"name": "fdr"}, "transform": [{"filter": "datum.zi === 'low' && datum.case === 'case-1'"}], "mark": "line", "encoding": {
    "x": {"field": "signal", "type": "quantitative", "scale": {"type": "log", "domain": [1.0615, 4.522], "nice": false, "zero": false}, "axis": {"title": null, "values": [1.111,1.2,1.296,1.4,1.497,1.6,1.789,2,2.236,2.5,2.739,3,3.464,4,4.32], "labels": false, "ticks": false, "gridWidth": {"condition": {"test": "indexof([1.2,1.4,1.6,2,2.5,3,4], datum.value) >= 0", "value": 2.6}, "value": 1.3}}},
    "xOffset": {"value": {"expr": "indexof(['2−gamma','2−gamma−zi','BCPNN','HDP','Efron','single gamma','KM','general gamma'], datum.model) * 5.126 - 17.94"}},
    "y": {"field": "FDR", "type": "quantitative", "scale": {"domain": [-0.0075, 0.1575], "nice": false, "zero": false}},
    "color": {"field": "model", "type": "nominal", "scale": {"domain": ["general gamma","KM","single gamma","Efron","HDP","BCPNN","2−gamma−zi","2−gamma"], "range": ["#D55E00","#F0E442","#CC79A7","#0072B2","#009E73","#000000","#56B4E9","#E69F00"]}, "legend": null}
  }},
  {"data": {"name": "fdr"}, "transform": [{"filter": "datum.zi === 'low' && datum.case === 'case-1'"}], "mark": "point", "encoding": {
    "x": {"field": "signal", "type": "quantitative", "scale": {"type": "log", "domain": [1.0615, 4.522], "nice": false, "zero": false}},
    "xOffset": {"value": {"expr": "indexof(['2−gamma','2−gamma−zi','BCPNN','HDP','Efron','single gamma','KM','general gamma'], datum.model) * 5.126 - 17.94"}},
    "y": {"field": "FDR", "type": "quantitative", "scale": {"domain": [-0.0075, 0.1575], "nice": false, "zero": false}},
    "fill": {"field": "model", "type": "nominal", "scale": {"domain": ["2−gamma","2−gamma−zi","BCPNN","HDP","Efron","single gamma","KM","general gamma"], "range": ["#E69F00","#56B4E9","#000000","#009E73","#0072B2","#CC79A7","#F0E442","#D55E00"]}},
    "shape": {"field": "model", "type": "nominal", "scale": {"domain": ["2−gamma","2−gamma−zi","BCPNN","HDP","Efron","single gamma","KM","general gamma"], "range": ["M0.3,0A0.3,0.3,0,1,1,-0.3,0A0.3,0.3,0,1,1,0.3,0Z","M0.3,0A0.3,0.3,0,1,1,-0.3,0A0.3,0.3,0,1,1,0.3,0Z","M0.3,0A0.3,0.3,0,1,1,-0.3,0A0.3,0.3,0,1,1,0.3,0Z","M0.3,0A0.3,0.3,0,1,1,-0.3,0A0.3,0.3,0,1,1,0.3,0Z","M0.3,0A0.3,0.3,0,1,1,-0.3,0A0.3,0.3,0,1,1,0.3,0Z","M0.3,0A0.3,0.3,0,1,1,-0.3,0A0.3,0.3,0,1,1,0.3,0Z","M0,-0.38L0.33,0.19L-0.33,0.19Z","M-0.045,-0.37H0.045V0.37H-0.045Z M-0.37,-0.045H0.37V0.045H-0.37Z M-0.23,-0.294L0.294,0.23L0.23,0.294L-0.294,-0.23Z M-0.294,0.23L0.23,-0.294L0.294,-0.23L-0.23,0.294Z"]}}
  }}
]},
{"width": 14, "height": 1, "data": {"name": "none"}, "mark": "point", "view": {"stroke": null}},
{"width": 520, "height": 207, "layer": [
  {"data": {"name": "threshold"}, "mark": "rule", "encoding": {"y": {"field": "threshold", "type": "quantitative", "scale": {"domain": [-0.0075, 0.1575], "nice": false, "zero": false}, "axis": {"title": null, "values": [0,0.025,0.05,0.075,0.1,0.125,0.15], "labels": false, "ticks": false, "gridWidth": {"condition": {"test": "indexof([0,0.05,0.1,0.15], datum.value) >= 0", "value": 2.6}, "value": 1.3}}}}},
  {"data": {"name": "fdr"}, "transform": [{"filter": "datum.zi === 'high' && datum.case === 'case-1'"}], "mark": "line", "encoding": {
    "x": {"field": "signal", "type": "quantitative", "scale": {"type": "log", "domain": [1.0615, 4.522], "nice": false, "zero": false}, "axis": {"title": null, "values": [1.111,1.2,1.296,1.4,1.497,1.6,1.789,2,2.236,2.5,2.739,3,3.464,4,4.32], "labels": false, "ticks": false, "gridWidth": {"condition": {"test": "indexof([1.2,1.4,1.6,2,2.5,3,4], datum.value) >= 0", "value": 2.6}, "value": 1.3}}},
    "xOffset": {"value": {"expr": "indexof(['2−gamma','2−gamma−zi','BCPNN','HDP','Efron','single gamma','KM','general gamma'], datum.model) * 5.126 - 17.94"}},
    "y": {"field": "FDR", "type": "quantitative", "scale": {"domain": [-0.0075, 0.1575], "nice": false, "zero": false}},
    "color": {"field": "model", "type": "nominal", "scale": {"domain": ["general gamma","KM","single gamma","Efron","HDP","BCPNN","2−gamma−zi","2−gamma"], "range": ["#D55E00","#F0E442","#CC79A7","#0072B2","#009E73","#000000","#56B4E9","#E69F00"]}, "legend": null}
  }},
  {"data": {"name": "fdr"}, "transform": [{"filter": "datum.zi === 'high' && datum.case === 'case-1'"}], "mark": "point", "encoding": {
    "x": {"field": "signal", "type": "quantitative", "scale": {"type": "log", "domain": [1.0615, 4.522], "nice": false, "zero": false}},
    "xOffset": {"value": {"expr": "indexof(['2−gamma','2−gamma−zi','BCPNN','HDP','Efron','single gamma','KM','general gamma'], datum.model) * 5.126 - 17.94"}},
    "y": {"field": "FDR", "type": "quantitative", "scale": {"domain": [-0.0075, 0.1575], "nice": false, "zero": false}},
    "fill": {"field": "model", "type": "nominal", "scale": {"domain": ["2−gamma","2−gamma−zi","BCPNN","HDP","Efron","single gamma","KM","general gamma"], "range": ["#E69F00","#56B4E9","#000000","#009E73","#0072B2","#CC79A7","#F0E442","#D55E00"]}},
    "shape": {"field": "model", "type": "nominal", "scale": {"domain": ["2−gamma","2−gamma−zi","BCPNN","HDP","Efron","single gamma","KM","general gamma"], "range": ["M0.3,0A0.3,0.3,0,1,1,-0.3,0A0.3,0.3,0,1,1,0.3,0Z","M0.3,0A0.3,0.3,0,1,1,-0.3,0A0.3,0.3,0,1,1,0.3,0Z","M0.3,0A0.3,0.3,0,1,1,-0.3,0A0.3,0.3,0,1,1,0.3,0Z","M0.3,0A0.3,0.3,0,1,1,-0.3,0A0.3,0.3,0,1,1,0.3,0Z","M0.3,0A0.3,0.3,0,1,1,-0.3,0A0.3,0.3,0,1,1,0.3,0Z","M0.3,0A0.3,0.3,0,1,1,-0.3,0A0.3,0.3,0,1,1,0.3,0Z","M0,-0.38L0.33,0.19L-0.33,0.19Z","M-0.045,-0.37H0.045V0.37H-0.045Z M-0.37,-0.045H0.37V0.045H-0.37Z M-0.23,-0.294L0.294,0.23L0.23,0.294L-0.294,-0.23Z M-0.294,0.23L0.23,-0.294L0.294,-0.23L-0.23,0.294Z"]}}
  }}
]},
{"width": 40, "height": 207, "view": {"fill": "#D9D9D9", "stroke": "#333333", "strokeWidth": 1.8}, "data": {"values": [{"label": "case−1"}]}, "mark": {"type": "text", "fontSize": 23, "color": "#1A1A1A", "angle": 90, "align": "center", "baseline": "middle"}, "encoding": {"text": {"field": "label"}}},

{"width": 1, "height": 14, "data": {"name": "none"}, "mark": "point", "view": {"stroke": null}},
{"width": 1, "height": 14, "data": {"name": "none"}, "mark": "point", "view": {"stroke": null}},
{"width": 1, "height": 14, "data": {"name": "none"}, "mark": "point", "view": {"stroke": null}},
{"width": 1, "height": 14, "data": {"name": "none"}, "mark": "point", "view": {"stroke": null}},
{"width": 1, "height": 14, "data": {"name": "none"}, "mark": "point", "view": {"stroke": null}},
{"width": 1, "height": 14, "data": {"name": "none"}, "mark": "point", "view": {"stroke": null}},

{"width": 520, "height": 207, "layer": [
  {"data": {"name": "threshold"}, "mark": "rule", "encoding": {"y": {"field": "threshold", "type": "quantitative", "scale": {"domain": [-0.0075, 0.1575], "nice": false, "zero": false}, "axis": {"title": "FDR", "titlePadding": 8, "values": [0,0.025,0.05,0.075,0.1,0.125,0.15], "labelExpr": "indexof([0,0.05,0.1,0.15], datum.value) >= 0 ? format(datum.value, '.2f') : ''", "tickWidth": {"condition": {"test": "indexof([0,0.05,0.1,0.15], datum.value) >= 0", "value": 2.2}, "value": 0}, "gridWidth": {"condition": {"test": "indexof([0,0.05,0.1,0.15], datum.value) >= 0", "value": 2.6}, "value": 1.3}}}}},
  {"data": {"name": "fdr"}, "transform": [{"filter": "datum.zi === 'none' && datum.case === 'case-2'"}], "mark": "line", "encoding": {
    "x": {"field": "signal", "type": "quantitative", "scale": {"type": "log", "domain": [1.0615, 4.522], "nice": false, "zero": false}, "axis": {"title": null, "values": [1.111,1.2,1.296,1.4,1.497,1.6,1.789,2,2.236,2.5,2.739,3,3.464,4,4.32], "labels": false, "ticks": false, "gridWidth": {"condition": {"test": "indexof([1.2,1.4,1.6,2,2.5,3,4], datum.value) >= 0", "value": 2.6}, "value": 1.3}}},
    "xOffset": {"value": {"expr": "indexof(['2−gamma','2−gamma−zi','BCPNN','HDP','Efron','single gamma','KM','general gamma'], datum.model) * 5.126 - 17.94"}},
    "y": {"field": "FDR", "type": "quantitative", "scale": {"domain": [-0.0075, 0.1575], "nice": false, "zero": false}},
    "color": {"field": "model", "type": "nominal", "scale": {"domain": ["general gamma","KM","single gamma","Efron","HDP","BCPNN","2−gamma−zi","2−gamma"], "range": ["#D55E00","#F0E442","#CC79A7","#0072B2","#009E73","#000000","#56B4E9","#E69F00"]}, "legend": null}
  }},
  {"data": {"name": "fdr"}, "transform": [{"filter": "datum.zi === 'none' && datum.case === 'case-2'"}], "mark": "point", "encoding": {
    "x": {"field": "signal", "type": "quantitative", "scale": {"type": "log", "domain": [1.0615, 4.522], "nice": false, "zero": false}},
    "xOffset": {"value": {"expr": "indexof(['2−gamma','2−gamma−zi','BCPNN','HDP','Efron','single gamma','KM','general gamma'], datum.model) * 5.126 - 17.94"}},
    "y": {"field": "FDR", "type": "quantitative", "scale": {"domain": [-0.0075, 0.1575], "nice": false, "zero": false}},
    "fill": {"field": "model", "type": "nominal", "scale": {"domain": ["2−gamma","2−gamma−zi","BCPNN","HDP","Efron","single gamma","KM","general gamma"], "range": ["#E69F00","#56B4E9","#000000","#009E73","#0072B2","#CC79A7","#F0E442","#D55E00"]}},
    "shape": {"field": "model", "type": "nominal", "scale": {"domain": ["2−gamma","2−gamma−zi","BCPNN","HDP","Efron","single gamma","KM","general gamma"], "range": ["M0.3,0A0.3,0.3,0,1,1,-0.3,0A0.3,0.3,0,1,1,0.3,0Z","M0.3,0A0.3,0.3,0,1,1,-0.3,0A0.3,0.3,0,1,1,0.3,0Z","M0.3,0A0.3,0.3,0,1,1,-0.3,0A0.3,0.3,0,1,1,0.3,0Z","M0.3,0A0.3,0.3,0,1,1,-0.3,0A0.3,0.3,0,1,1,0.3,0Z","M0.3,0A0.3,0.3,0,1,1,-0.3,0A0.3,0.3,0,1,1,0.3,0Z","M0.3,0A0.3,0.3,0,1,1,-0.3,0A0.3,0.3,0,1,1,0.3,0Z","M0,-0.38L0.33,0.19L-0.33,0.19Z","M-0.045,-0.37H0.045V0.37H-0.045Z M-0.37,-0.045H0.37V0.045H-0.37Z M-0.23,-0.294L0.294,0.23L0.23,0.294L-0.294,-0.23Z M-0.294,0.23L0.23,-0.294L0.294,-0.23L-0.23,0.294Z"]}}
  }}
]},
{"width": 14, "height": 1, "data": {"name": "none"}, "mark": "point", "view": {"stroke": null}},
{"width": 520, "height": 207, "layer": [
  {"data": {"name": "threshold"}, "mark": "rule", "encoding": {"y": {"field": "threshold", "type": "quantitative", "scale": {"domain": [-0.0075, 0.1575], "nice": false, "zero": false}, "axis": {"title": null, "values": [0,0.025,0.05,0.075,0.1,0.125,0.15], "labels": false, "ticks": false, "gridWidth": {"condition": {"test": "indexof([0,0.05,0.1,0.15], datum.value) >= 0", "value": 2.6}, "value": 1.3}}}}},
  {"data": {"name": "fdr"}, "transform": [{"filter": "datum.zi === 'low' && datum.case === 'case-2'"}], "mark": "line", "encoding": {
    "x": {"field": "signal", "type": "quantitative", "scale": {"type": "log", "domain": [1.0615, 4.522], "nice": false, "zero": false}, "axis": {"title": null, "values": [1.111,1.2,1.296,1.4,1.497,1.6,1.789,2,2.236,2.5,2.739,3,3.464,4,4.32], "labels": false, "ticks": false, "gridWidth": {"condition": {"test": "indexof([1.2,1.4,1.6,2,2.5,3,4], datum.value) >= 0", "value": 2.6}, "value": 1.3}}},
    "xOffset": {"value": {"expr": "indexof(['2−gamma','2−gamma−zi','BCPNN','HDP','Efron','single gamma','KM','general gamma'], datum.model) * 5.126 - 17.94"}},
    "y": {"field": "FDR", "type": "quantitative", "scale": {"domain": [-0.0075, 0.1575], "nice": false, "zero": false}},
    "color": {"field": "model", "type": "nominal", "scale": {"domain": ["general gamma","KM","single gamma","Efron","HDP","BCPNN","2−gamma−zi","2−gamma"], "range": ["#D55E00","#F0E442","#CC79A7","#0072B2","#009E73","#000000","#56B4E9","#E69F00"]}, "legend": null}
  }},
  {"data": {"name": "fdr"}, "transform": [{"filter": "datum.zi === 'low' && datum.case === 'case-2'"}], "mark": "point", "encoding": {
    "x": {"field": "signal", "type": "quantitative", "scale": {"type": "log", "domain": [1.0615, 4.522], "nice": false, "zero": false}},
    "xOffset": {"value": {"expr": "indexof(['2−gamma','2−gamma−zi','BCPNN','HDP','Efron','single gamma','KM','general gamma'], datum.model) * 5.126 - 17.94"}},
    "y": {"field": "FDR", "type": "quantitative", "scale": {"domain": [-0.0075, 0.1575], "nice": false, "zero": false}},
    "fill": {"field": "model", "type": "nominal", "scale": {"domain": ["2−gamma","2−gamma−zi","BCPNN","HDP","Efron","single gamma","KM","general gamma"], "range": ["#E69F00","#56B4E9","#000000","#009E73","#0072B2","#CC79A7","#F0E442","#D55E00"]}},
    "shape": {"field": "model", "type": "nominal", "scale": {"domain": ["2−gamma","2−gamma−zi","BCPNN","HDP","Efron","single gamma","KM","general gamma"], "range": ["M0.3,0A0.3,0.3,0,1,1,-0.3,0A0.3,0.3,0,1,1,0.3,0Z","M0.3,0A0.3,0.3,0,1,1,-0.3,0A0.3,0.3,0,1,1,0.3,0Z","M0.3,0A0.3,0.3,0,1,1,-0.3,0A0.3,0.3,0,1,1,0.3,0Z","M0.3,0A0.3,0.3,0,1,1,-0.3,0A0.3,0.3,0,1,1,0.3,0Z","M0.3,0A0.3,0.3,0,1,1,-0.3,0A0.3,0.3,0,1,1,0.3,0Z","M0.3,0A0.3,0.3,0,1,1,-0.3,0A0.3,0.3,0,1,1,0.3,0Z","M0,-0.38L0.33,0.19L-0.33,0.19Z","M-0.045,-0.37H0.045V0.37H-0.045Z M-0.37,-0.045H0.37V0.045H-0.37Z M-0.23,-0.294L0.294,0.23L0.23,0.294L-0.294,-0.23Z M-0.294,0.23L0.23,-0.294L0.294,-0.23L-0.23,0.294Z"]}}
  }}
]},
{"width": 14, "height": 1, "data": {"name": "none"}, "mark": "point", "view": {"stroke": null}},
{"width": 520, "height": 207, "layer": [
  {"data": {"name": "threshold"}, "mark": "rule", "encoding": {"y": {"field": "threshold", "type": "quantitative", "scale": {"domain": [-0.0075, 0.1575], "nice": false, "zero": false}, "axis": {"title": null, "values": [0,0.025,0.05,0.075,0.1,0.125,0.15], "labels": false, "ticks": false, "gridWidth": {"condition": {"test": "indexof([0,0.05,0.1,0.15], datum.value) >= 0", "value": 2.6}, "value": 1.3}}}}},
  {"data": {"name": "fdr"}, "transform": [{"filter": "datum.zi === 'high' && datum.case === 'case-2'"}], "mark": "line", "encoding": {
    "x": {"field": "signal", "type": "quantitative", "scale": {"type": "log", "domain": [1.0615, 4.522], "nice": false, "zero": false}, "axis": {"title": null, "values": [1.111,1.2,1.296,1.4,1.497,1.6,1.789,2,2.236,2.5,2.739,3,3.464,4,4.32], "labels": false, "ticks": false, "gridWidth": {"condition": {"test": "indexof([1.2,1.4,1.6,2,2.5,3,4], datum.value) >= 0", "value": 2.6}, "value": 1.3}}},
    "xOffset": {"value": {"expr": "indexof(['2−gamma','2−gamma−zi','BCPNN','HDP','Efron','single gamma','KM','general gamma'], datum.model) * 5.126 - 17.94"}},
    "y": {"field": "FDR", "type": "quantitative", "scale": {"domain": [-0.0075, 0.1575], "nice": false, "zero": false}},
    "color": {"field": "model", "type": "nominal", "scale": {"domain": ["general gamma","KM","single gamma","Efron","HDP","BCPNN","2−gamma−zi","2−gamma"], "range": ["#D55E00","#F0E442","#CC79A7","#0072B2","#009E73","#000000","#56B4E9","#E69F00"]}, "legend": null}
  }},
  {"data": {"name": "fdr"}, "transform": [{"filter": "datum.zi === 'high' && datum.case === 'case-2'"}], "mark": "point", "encoding": {
    "x": {"field": "signal", "type": "quantitative", "scale": {"type": "log", "domain": [1.0615, 4.522], "nice": false, "zero": false}},
    "xOffset": {"value": {"expr": "indexof(['2−gamma','2−gamma−zi','BCPNN','HDP','Efron','single gamma','KM','general gamma'], datum.model) * 5.126 - 17.94"}},
    "y": {"field": "FDR", "type": "quantitative", "scale": {"domain": [-0.0075, 0.1575], "nice": false, "zero": false}},
    "fill": {"field": "model", "type": "nominal", "scale": {"domain": ["2−gamma","2−gamma−zi","BCPNN","HDP","Efron","single gamma","KM","general gamma"], "range": ["#E69F00","#56B4E9","#000000","#009E73","#0072B2","#CC79A7","#F0E442","#D55E00"]}},
    "shape": {"field": "model", "type": "nominal", "scale": {"domain": ["2−gamma","2−gamma−zi","BCPNN","HDP","Efron","single gamma","KM","general gamma"], "range": ["M0.3,0A0.3,0.3,0,1,1,-0.3,0A0.3,0.3,0,1,1,0.3,0Z","M0.3,0A0.3,0.3,0,1,1,-0.3,0A0.3,0.3,0,1,1,0.3,0Z","M0.3,0A0.3,0.3,0,1,1,-0.3,0A0.3,0.3,0,1,1,0.3,0Z","M0.3,0A0.3,0.3,0,1,1,-0.3,0A0.3,0.3,0,1,1,0.3,0Z","M0.3,0A0.3,0.3,0,1,1,-0.3,0A0.3,0.3,0,1,1,0.3,0Z","M0.3,0A0.3,0.3,0,1,1,-0.3,0A0.3,0.3,0,1,1,0.3,0Z","M0,-0.38L0.33,0.19L-0.33,0.19Z","M-0.045,-0.37H0.045V0.37H-0.045Z M-0.37,-0.045H0.37V0.045H-0.37Z M-0.23,-0.294L0.294,0.23L0.23,0.294L-0.294,-0.23Z M-0.294,0.23L0.23,-0.294L0.294,-0.23L-0.23,0.294Z"]}}
  }}
]},
{"width": 40, "height": 207, "view": {"fill": "#D9D9D9", "stroke": "#333333", "strokeWidth": 1.8}, "data": {"values": [{"label": "case−2"}]}, "mark": {"type": "text", "fontSize": 23, "color": "#1A1A1A", "angle": 90, "align": "center", "baseline": "middle"}, "encoding": {"text": {"field": "label"}}},

{"width": 1, "height": 14, "data": {"name": "none"}, "mark": "point", "view": {"stroke": null}},
{"width": 1, "height": 14, "data": {"name": "none"}, "mark": "point", "view": {"stroke": null}},
{"width": 1, "height": 14, "data": {"name": "none"}, "mark": "point", "view": {"stroke": null}},
{"width": 1, "height": 14, "data": {"name": "none"}, "mark": "point", "view": {"stroke": null}},
{"width": 1, "height": 14, "data": {"name": "none"}, "mark": "point", "view": {"stroke": null}},
{"width": 1, "height": 14, "data": {"name": "none"}, "mark": "point", "view": {"stroke": null}},

{"width": 520, "height": 207, "layer": [
  {"data": {"name": "threshold"}, "mark": "rule", "encoding": {"y": {"field": "threshold", "type": "quantitative", "scale": {"domain": [-0.0075, 0.1575], "nice": false, "zero": false}, "axis": {"title": null, "values": [0,0.025,0.05,0.075,0.1,0.125,0.15], "labelExpr": "indexof([0,0.05,0.1,0.15], datum.value) >= 0 ? format(datum.value, '.2f') : ''", "tickWidth": {"condition": {"test": "indexof([0,0.05,0.1,0.15], datum.value) >= 0", "value": 2.2}, "value": 0}, "gridWidth": {"condition": {"test": "indexof([0,0.05,0.1,0.15], datum.value) >= 0", "value": 2.6}, "value": 1.3}}}}},
  {"data": {"name": "fdr"}, "transform": [{"filter": "datum.zi === 'none' && datum.case === 'case-3'"}], "mark": "line", "encoding": {
    "x": {"field": "signal", "type": "quantitative", "scale": {"type": "log", "domain": [1.0615, 4.522], "nice": false, "zero": false}, "axis": {"title": null, "values": [1.111,1.2,1.296,1.4,1.497,1.6,1.789,2,2.236,2.5,2.739,3,3.464,4,4.32], "labelExpr": "indexof([1.2,1.4,1.6,2,2.5,3,4], datum.value) >= 0 ? format(datum.value, '.1f') : ''", "tickWidth": {"condition": {"test": "indexof([1.2,1.4,1.6,2,2.5,3,4], datum.value) >= 0", "value": 2.2}, "value": 0}, "gridWidth": {"condition": {"test": "indexof([1.2,1.4,1.6,2,2.5,3,4], datum.value) >= 0", "value": 2.6}, "value": 1.3}}},
    "xOffset": {"value": {"expr": "indexof(['2−gamma','2−gamma−zi','BCPNN','HDP','Efron','single gamma','KM','general gamma'], datum.model) * 5.126 - 17.94"}},
    "y": {"field": "FDR", "type": "quantitative", "scale": {"domain": [-0.0075, 0.1575], "nice": false, "zero": false}},
    "color": {"field": "model", "type": "nominal", "scale": {"domain": ["general gamma","KM","single gamma","Efron","HDP","BCPNN","2−gamma−zi","2−gamma"], "range": ["#D55E00","#F0E442","#CC79A7","#0072B2","#009E73","#000000","#56B4E9","#E69F00"]}, "legend": null}
  }},
  {"data": {"name": "fdr"}, "transform": [{"filter": "datum.zi === 'none' && datum.case === 'case-3'"}], "mark": "point", "encoding": {
    "x": {"field": "signal", "type": "quantitative", "scale": {"type": "log", "domain": [1.0615, 4.522], "nice": false, "zero": false}},
    "xOffset": {"value": {"expr": "indexof(['2−gamma','2−gamma−zi','BCPNN','HDP','Efron','single gamma','KM','general gamma'], datum.model) * 5.126 - 17.94"}},
    "y": {"field": "FDR", "type": "quantitative", "scale": {"domain": [-0.0075, 0.1575], "nice": false, "zero": false}},
    "fill": {"field": "model", "type": "nominal", "scale": {"domain": ["2−gamma","2−gamma−zi","BCPNN","HDP","Efron","single gamma","KM","general gamma"], "range": ["#E69F00","#56B4E9","#000000","#009E73","#0072B2","#CC79A7","#F0E442","#D55E00"]}},
    "shape": {"field": "model", "type": "nominal", "scale": {"domain": ["2−gamma","2−gamma−zi","BCPNN","HDP","Efron","single gamma","KM","general gamma"], "range": ["M0.3,0A0.3,0.3,0,1,1,-0.3,0A0.3,0.3,0,1,1,0.3,0Z","M0.3,0A0.3,0.3,0,1,1,-0.3,0A0.3,0.3,0,1,1,0.3,0Z","M0.3,0A0.3,0.3,0,1,1,-0.3,0A0.3,0.3,0,1,1,0.3,0Z","M0.3,0A0.3,0.3,0,1,1,-0.3,0A0.3,0.3,0,1,1,0.3,0Z","M0.3,0A0.3,0.3,0,1,1,-0.3,0A0.3,0.3,0,1,1,0.3,0Z","M0.3,0A0.3,0.3,0,1,1,-0.3,0A0.3,0.3,0,1,1,0.3,0Z","M0,-0.38L0.33,0.19L-0.33,0.19Z","M-0.045,-0.37H0.045V0.37H-0.045Z M-0.37,-0.045H0.37V0.045H-0.37Z M-0.23,-0.294L0.294,0.23L0.23,0.294L-0.294,-0.23Z M-0.294,0.23L0.23,-0.294L0.294,-0.23L-0.23,0.294Z"]}}
  }}
]},
{"width": 14, "height": 1, "data": {"name": "none"}, "mark": "point", "view": {"stroke": null}},
{"width": 520, "height": 207, "layer": [
  {"data": {"name": "threshold"}, "mark": "rule", "encoding": {"y": {"field": "threshold", "type": "quantitative", "scale": {"domain": [-0.0075, 0.1575], "nice": false, "zero": false}, "axis": {"title": null, "values": [0,0.025,0.05,0.075,0.1,0.125,0.15], "labels": false, "ticks": false, "gridWidth": {"condition": {"test": "indexof([0,0.05,0.1,0.15], datum.value) >= 0", "value": 2.6}, "value": 1.3}}}}},
  {"data": {"name": "fdr"}, "transform": [{"filter": "datum.zi === 'low' && datum.case === 'case-3'"}], "mark": "line", "encoding": {
    "x": {"field": "signal", "type": "quantitative", "scale": {"type": "log", "domain": [1.0615, 4.522], "nice": false, "zero": false}, "axis": {"title": "signal strength", "titlePadding": 2, "values": [1.111,1.2,1.296,1.4,1.497,1.6,1.789,2,2.236,2.5,2.739,3,3.464,4,4.32], "labelExpr": "indexof([1.2,1.4,1.6,2,2.5,3,4], datum.value) >= 0 ? format(datum.value, '.1f') : ''", "tickWidth": {"condition": {"test": "indexof([1.2,1.4,1.6,2,2.5,3,4], datum.value) >= 0", "value": 2.2}, "value": 0}, "gridWidth": {"condition": {"test": "indexof([1.2,1.4,1.6,2,2.5,3,4], datum.value) >= 0", "value": 2.6}, "value": 1.3}}},
    "xOffset": {"value": {"expr": "indexof(['2−gamma','2−gamma−zi','BCPNN','HDP','Efron','single gamma','KM','general gamma'], datum.model) * 5.126 - 17.94"}},
    "y": {"field": "FDR", "type": "quantitative", "scale": {"domain": [-0.0075, 0.1575], "nice": false, "zero": false}},
    "color": {"field": "model", "type": "nominal", "scale": {"domain": ["general gamma","KM","single gamma","Efron","HDP","BCPNN","2−gamma−zi","2−gamma"], "range": ["#D55E00","#F0E442","#CC79A7","#0072B2","#009E73","#000000","#56B4E9","#E69F00"]}, "legend": null}
  }},
  {"data": {"name": "fdr"}, "transform": [{"filter": "datum.zi === 'low' && datum.case === 'case-3'"}], "mark": "point", "encoding": {
    "x": {"field": "signal", "type": "quantitative", "scale": {"type": "log", "domain": [1.0615, 4.522], "nice": false, "zero": false}},
    "xOffset": {"value": {"expr": "indexof(['2−gamma','2−gamma−zi','BCPNN','HDP','Efron','single gamma','KM','general gamma'], datum.model) * 5.126 - 17.94"}},
    "y": {"field": "FDR", "type": "quantitative", "scale": {"domain": [-0.0075, 0.1575], "nice": false, "zero": false}},
    "fill": {"field": "model", "type": "nominal", "scale": {"domain": ["2−gamma","2−gamma−zi","BCPNN","HDP","Efron","single gamma","KM","general gamma"], "range": ["#E69F00","#56B4E9","#000000","#009E73","#0072B2","#CC79A7","#F0E442","#D55E00"]}},
    "shape": {"field": "model", "type": "nominal", "scale": {"domain": ["2−gamma","2−gamma−zi","BCPNN","HDP","Efron","single gamma","KM","general gamma"], "range": ["M0.3,0A0.3,0.3,0,1,1,-0.3,0A0.3,0.3,0,1,1,0.3,0Z","M0.3,0A0.3,0.3,0,1,1,-0.3,0A0.3,0.3,0,1,1,0.3,0Z","M0.3,0A0.3,0.3,0,1,1,-0.3,0A0.3,0.3,0,1,1,0.3,0Z","M0.3,0A0.3,0.3,0,1,1,-0.3,0A0.3,0.3,0,1,1,0.3,0Z","M0.3,0A0.3,0.3,0,1,1,-0.3,0A0.3,0.3,0,1,1,0.3,0Z","M0.3,0A0.3,0.3,0,1,1,-0.3,0A0.3,0.3,0,1,1,0.3,0Z","M0,-0.38L0.33,0.19L-0.33,0.19Z","M-0.045,-0.37H0.045V0.37H-0.045Z M-0.37,-0.045H0.37V0.045H-0.37Z M-0.23,-0.294L0.294,0.23L0.23,0.294L-0.294,-0.23Z M-0.294,0.23L0.23,-0.294L0.294,-0.23L-0.23,0.294Z"]}}
  }}
]},
{"width": 14, "height": 1, "data": {"name": "none"}, "mark": "point", "view": {"stroke": null}},
{"width": 520, "height": 207, "layer": [
  {"data": {"name": "threshold"}, "mark": "rule", "encoding": {"y": {"field": "threshold", "type": "quantitative", "scale": {"domain": [-0.0075, 0.1575], "nice": false, "zero": false}, "axis": {"title": null, "values": [0,0.025,0.05,0.075,0.1,0.125,0.15], "labels": false, "ticks": false, "gridWidth": {"condition": {"test": "indexof([0,0.05,0.1,0.15], datum.value) >= 0", "value": 2.6}, "value": 1.3}}}}},
  {"data": {"name": "fdr"}, "transform": [{"filter": "datum.zi === 'high' && datum.case === 'case-3'"}], "mark": "line", "encoding": {
    "x": {"field": "signal", "type": "quantitative", "scale": {"type": "log", "domain": [1.0615, 4.522], "nice": false, "zero": false}, "axis": {"title": null, "values": [1.111,1.2,1.296,1.4,1.497,1.6,1.789,2,2.236,2.5,2.739,3,3.464,4,4.32], "labelExpr": "indexof([1.2,1.4,1.6,2,2.5,3,4], datum.value) >= 0 ? format(datum.value, '.1f') : ''", "tickWidth": {"condition": {"test": "indexof([1.2,1.4,1.6,2,2.5,3,4], datum.value) >= 0", "value": 2.2}, "value": 0}, "gridWidth": {"condition": {"test": "indexof([1.2,1.4,1.6,2,2.5,3,4], datum.value) >= 0", "value": 2.6}, "value": 1.3}}},
    "xOffset": {"value": {"expr": "indexof(['2−gamma','2−gamma−zi','BCPNN','HDP','Efron','single gamma','KM','general gamma'], datum.model) * 5.126 - 17.94"}},
    "y": {"field": "FDR", "type": "quantitative", "scale": {"domain": [-0.0075, 0.1575], "nice": false, "zero": false}},
    "color": {"field": "model", "type": "nominal", "scale": {"domain": ["general gamma","KM","single gamma","Efron","HDP","BCPNN","2−gamma−zi","2−gamma"], "range": ["#D55E00","#F0E442","#CC79A7","#0072B2","#009E73","#000000","#56B4E9","#E69F00"]}, "legend": null}
  }},
  {"data": {"name": "fdr"}, "transform": [{"filter": "datum.zi === 'high' && datum.case === 'case-3'"}], "mark": "point", "encoding": {
    "x": {"field": "signal", "type": "quantitative", "scale": {"type": "log", "domain": [1.0615, 4.522], "nice": false, "zero": false}},
    "xOffset": {"value": {"expr": "indexof(['2−gamma','2−gamma−zi','BCPNN','HDP','Efron','single gamma','KM','general gamma'], datum.model) * 5.126 - 17.94"}},
    "y": {"field": "FDR", "type": "quantitative", "scale": {"domain": [-0.0075, 0.1575], "nice": false, "zero": false}},
    "fill": {"field": "model", "type": "nominal", "scale": {"domain": ["2−gamma","2−gamma−zi","BCPNN","HDP","Efron","single gamma","KM","general gamma"], "range": ["#E69F00","#56B4E9","#000000","#009E73","#0072B2","#CC79A7","#F0E442","#D55E00"]}},
    "shape": {"field": "model", "type": "nominal", "scale": {"domain": ["2−gamma","2−gamma−zi","BCPNN","HDP","Efron","single gamma","KM","general gamma"], "range": ["M0.3,0A0.3,0.3,0,1,1,-0.3,0A0.3,0.3,0,1,1,0.3,0Z","M0.3,0A0.3,0.3,0,1,1,-0.3,0A0.3,0.3,0,1,1,0.3,0Z","M0.3,0A0.3,0.3,0,1,1,-0.3,0A0.3,0.3,0,1,1,0.3,0Z","M0.3,0A0.3,0.3,0,1,1,-0.3,0A0.3,0.3,0,1,1,0.3,0Z","M0.3,0A0.3,0.3,0,1,1,-0.3,0A0.3,0.3,0,1,1,0.3,0Z","M0.3,0A0.3,0.3,0,1,1,-0.3,0A0.3,0.3,0,1,1,0.3,0Z","M0,-0.38L0.33,0.19L-0.33,0.19Z","M-0.045,-0.37H0.045V0.37H-0.045Z M-0.37,-0.045H0.37V0.045H-0.37Z M-0.23,-0.294L0.294,0.23L0.23,0.294L-0.294,-0.23Z M-0.294,0.23L0.23,-0.294L0.294,-0.23L-0.23,0.294Z"]}}
  }}
]},
{"width": 40, "height": 207, "view": {"fill": "#D9D9D9", "stroke": "#333333", "strokeWidth": 1.8}, "data": {"values": [{"label": "case−3"}]}, "mark": {"type": "text", "fontSize": 23, "color": "#1A1A1A", "angle": 90, "align": "center", "baseline": "middle"}, "encoding": {"text": {"field": "label"}}}
],
"config": {
  "font": "Liberation Sans",
  "view": {"stroke": "#333333", "strokeWidth": 1.8},
  "axis": {"domain": false, "grid": true, "gridColor": "#EBEBEB", "labelColor": "#4D4D4D", "labelFontSize": 22, "labelPadding": 5, "labelOverlap": false, "labelFlush": false, "tickColor": "#333333", "tickSize": 7, "titleFontWeight": "normal", "titleColor": "#000000", "titleFontSize": 28},
  "line": {"strokeWidth": 2.6, "opacity": 0.4},
  "point": {"filled": true, "size": 1089, "opacity": 1, "strokeWidth": 0},
  "rule": {"color": "#000000", "strokeWidth": 2.6, "strokeDash": [10, 10]}
}
}
